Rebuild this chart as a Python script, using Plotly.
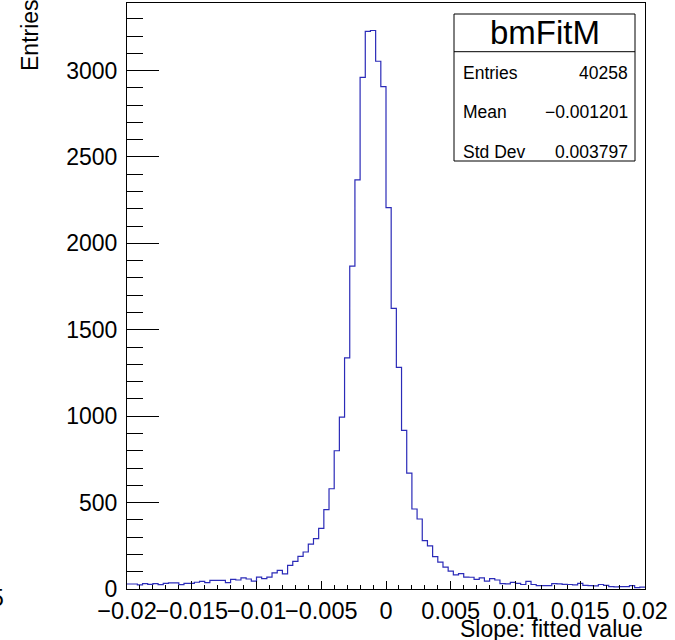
"""
Histograma ROOT bmFitM: pendiente ajustada.
"""
import plotly.graph_objects as go
import numpy as np

AZUL = '#2b2bb8'
NEGRO = '#000000'
BLANCO = '#FFFFFF'
FUENTE = 'Liberation Sans, Arial, sans-serif'

# binning del histograma
x_min = -0.02
x_max = 0.02
n_bins = 100

# contenido de cada bin
counts = [
    29, 29, 24, 31, 27, 31, 25, 33, 35, 35,
    25, 33, 33, 39, 44, 37, 50, 50, 50, 37,
    56, 52, 64, 58, 46, 69, 60, 69, 93, 108,
    87, 137, 160, 189, 214, 260, 291, 351, 459, 580,
    800, 995, 1337, 1868, 2367, 2961, 3227, 3232, 3054, 2907,
    2207, 1624, 1283, 918, 670, 463, 405, 280, 249, 187,
    156, 127, 103, 82, 89, 69, 68, 56, 64, 45,
    60, 52, 31, 30, 38, 32, 26, 44, 26, 19,
    19, 19, 31, 30, 27, 26, 24, 33, 21, 19,
    18, 26, 21, 14, 12, 14, 14, 20, 8, 11,
]

x_ticks = [-0.02, -0.015, -0.01, -0.005, 0, 0.005, 0.01, 0.015, 0.02]
x_ticktext = ['\u22120.02', '\u22120.015', '\u22120.01', '\u22120.005', '0',
              '0.005', '0.01', '0.015', '0.02']
y_ticks = [0, 500, 1000, 1500, 2000, 2500, 3000]
y_ticktext = ['0', '500', '1000', '1500', '2000', '2500', '3000']
y_max = 3391

stats_title = 'bmFitM'
stats_labels = ['Entries', 'Mean', 'Std Dev']
stats_values = ['40258', '\u22120.001201', '0.003797']

W, H = 675, 640
ML, MR, MT, MB = 127, 30, 3, 51
PW, PH = W - ML - MR, H - MT - MB


def px_x(p):
    return (p - ML) / PW


def px_y(p):
    return (H - MB - p) / PH


edges = np.linspace(x_min, x_max, n_bins + 1)
y_step = list(counts) + [counts[-1]]

fig = go.Figure()
fig.add_trace(go.Scatter(
    x=edges, y=y_step, mode='lines', line=dict(color=AZUL, width=1.2, shape='hv'),
    hoverinfo='skip', showlegend=False, cliponaxis=True,
))

# caja de estadisticas
bx0, bx1, by0, by1, bdiv = 454, 635, 14, 161, 51.7
shapes = [
    dict(type='rect', xref='paper', yref='paper', x0=px_x(bx0), x1=px_x(bx1),
         y0=px_y(by1), y1=px_y(by0), line=dict(color=NEGRO, width=1), fillcolor=BLANCO, layer='above'),
    dict(type='line', xref='paper', yref='paper', x0=px_x(bx0), x1=px_x(bx1),
         y0=px_y(bdiv), y1=px_y(bdiv), line=dict(color=NEGRO, width=1), layer='above'),
]
annotations = [
    dict(text=stats_title, x=px_x((bx0 + bx1) / 2), y=px_y(33), xref='paper', yref='paper',
         showarrow=False, xanchor='center', yanchor='middle', font=dict(size=33, color=NEGRO, family=FUENTE)),
]
for i, (lab, val) in enumerate(zip(stats_labels, stats_values)):
    yy = px_y(73 + i * 39.5)
    annotations.append(dict(text=lab, x=px_x(461), y=yy, xref='paper', yref='paper', showarrow=False,
                            xanchor='left', yanchor='middle', font=dict(size=17.5, color=NEGRO, family=FUENTE)))
    annotations.append(dict(text=val, x=px_x(630), y=yy, xref='paper', yref='paper', showarrow=False,
                            xanchor='right', yanchor='middle', font=dict(size=17.5, color=NEGRO, family=FUENTE)))

# titulos de ejes
annotations.append(dict(text='Slope: fitted value', x=1, y=px_y(629), xref='paper', yref='paper',
                        showarrow=False, xanchor='right', yanchor='middle',
                        font=dict(size=23, color=NEGRO, family=FUENTE)))
annotations.append(dict(text='Entries', x=px_x(30), y=px_y(73), xref='paper', yref='paper',
                        showarrow=False, xanchor='center', yanchor='bottom', textangle=-90,
                        font=dict(size=23, color=NEGRO, family=FUENTE)))
annotations.append(dict(text='5', x=px_x(6), y=px_y(598), xref='paper', yref='paper',
                        showarrow=False, xanchor='right', yanchor='middle',
                        font=dict(size=23, color=NEGRO, family=FUENTE)))

fig.update_layout(
    width=W, height=H,
    margin=dict(l=ML, r=MR, t=MT, b=MB, autoexpand=False),
    plot_bgcolor=BLANCO, paper_bgcolor=BLANCO,
    showlegend=False,
    xaxis=dict(
        range=[x_min, x_max], tickmode='array', tickvals=x_ticks, ticktext=x_ticktext,
        ticks='inside', ticklen=8, tickwidth=1, tickcolor=NEGRO, tickangle=0, automargin=False,
        minor=dict(tickmode='linear', tick0=x_min, dtick=0.001, ticks='inside', ticklen=4,
                   tickwidth=1, tickcolor=NEGRO, showgrid=False),
        showgrid=False, zeroline=False, showline=True, linecolor=NEGRO, linewidth=1, mirror=True,
        tickfont=dict(size=23.5, color=NEGRO, family=FUENTE), ticklabelstandoff=1,
    ),
    yaxis=dict(
        range=[0, y_max], tickmode='array', tickvals=y_ticks, ticktext=y_ticktext,
        ticks='inside', ticklen=32, tickwidth=1, tickcolor=NEGRO, automargin=False,
        minor=dict(tickmode='linear', tick0=0, dtick=100, ticks='inside', ticklen=16,
                   tickwidth=1, tickcolor=NEGRO, showgrid=False),
        showgrid=False, zeroline=False, showline=True, linecolor=NEGRO, linewidth=1, mirror=True,
        tickfont=dict(size=23, color=NEGRO, family=FUENTE), ticklabelstandoff=4,
    ),
    shapes=shapes, annotations=annotations,
)

fig.write_html("out.html", post_script="document.body.style.margin='0';",
               config={'displayModeBar': False})
